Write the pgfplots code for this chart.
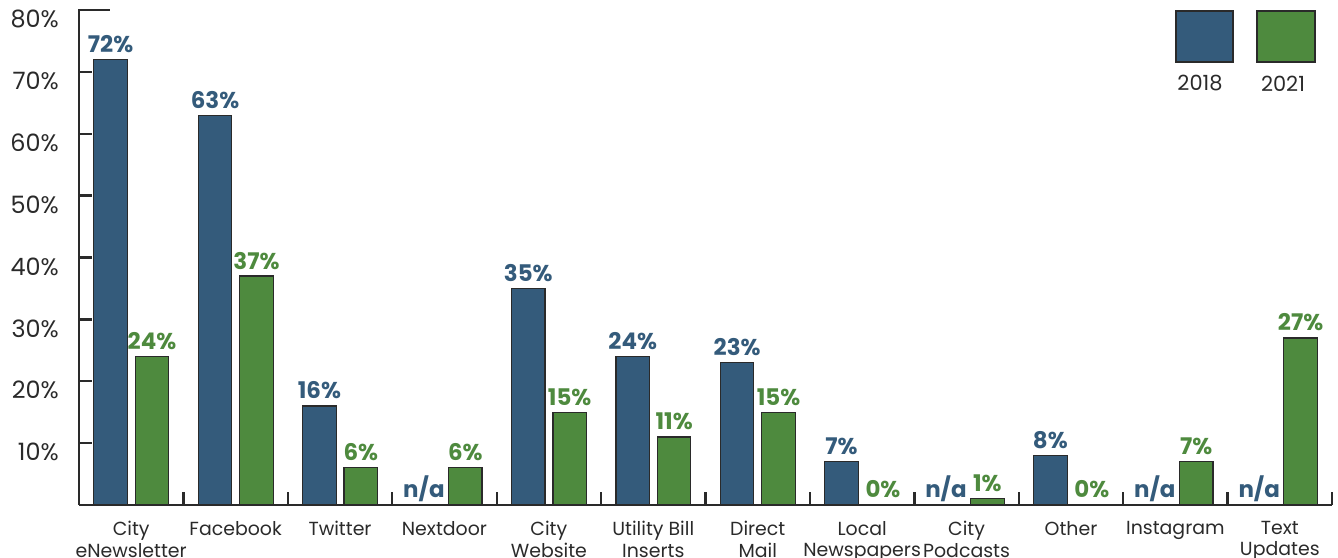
\documentclass[border=0pt]{standalone}
\usepackage{pgfplots}
\pgfplotsset{compat=1.18}
\usepackage{fontspec}
\setmainfont{Poppins}
\definecolor{cblue}{HTML}{345B7B}
\definecolor{cgreen}{HTML}{4E8A3E}
\definecolor{ctext}{HTML}{2A2A2A}
\begin{document}
\begin{tikzpicture}[x=1bp,y=1bp]
\useasboundingbox (0,0) rectangle (1338,558);
\begin{axis}[
  at={(79bp,53bp)}, anchor=south west,
  scale only axis, width=1253bp, height=495bp,
  xmin=-0.5, xmax=11.5, ymin=0, ymax=80,
  axis x line=bottom, axis y line=left,
  axis line style={-, line width=2.5bp, color=ctext},
  xtick={-0.5,0.5,...,11.5},
  x tick label as interval,
  major x tick style={draw=none},
  xticklabels={{City\\eNewsletter},{Facebook},{Twitter},{Nextdoor},{City\\Website},{Utility Bill\\Inserts},{Direct\\Mail},{Local\\Newspapers},{City\\Podcasts},{Other},{Instagram},{Text\\Updates}},
  xticklabel style={align=center, anchor=north, inner sep=0pt, yshift=-3bp, font=\fontsize{19}{21.5}\selectfont, text=ctext},
  ytick={10,20,...,80},
  yticklabel={\pgfmathprintnumber{\tick}\%},
  yticklabel style={anchor=east, inner sep=0pt, xshift=-20bp, yshift=-9bp, font=\fontsize{24}{26}\selectfont, text=ctext},
  /pgf/number format/assume math mode=true,
  major tick length=13bp, tick align=inside,
  major y tick style={line width=2.3bp, color=ctext},
  ybar, bar width=33.5bp,
  point meta=explicit symbolic,
  nodes near coords={\pgfplotspointmeta},
  every node near coord/.append style={font=\bfseries\fontsize{23}{26}\selectfont, inner sep=0pt, anchor=base, yshift=7bp},
  clip=false,
]
\addplot[fill=cblue, draw=ctext, line width=1.2bp, bar shift=-20.6bp,
  every node near coord/.append style={text=cblue}] coordinates {
  (0,72) [72\%] (1,63) [63\%] (2,16) [16\%] (3,0) [n/a] (4,35) [35\%] (5,24) [24\%]
  (6,23) [23\%] (7,7) [7\%] (8,0) [n/a] (9,8) [8\%] (10,0) [n/a] (11,0) [n/a]
};
\addplot[fill=cgreen, draw=ctext, line width=1.2bp, bar shift=20.8bp,
  every node near coord/.append style={text=cgreen}] coordinates {
  (0,24) [24\%] (1,37) [37\%] (2,6) [6\%] (3,6) [6\%] (4,15) [15\%] (5,11) [11\%]
  (6,15) [15\%] (7,0) [0\%] (8,1) [1\%] (9,0) [0\%] (10,7) [7\%] (11,27) [27\%]
};
\pgfplotsinvokeforeach{0.5,1.5,2.5,3.5,4.5,5.5,6.5,7.5,8.5,9.5,10.5,11.5}{
  \draw[line width=2.3bp, ctext] (axis cs:#1,0) -- ++(0pt,12.5bp);
}
\end{axis}
\draw[line width=2.5bp, ctext] (78,548) -- (110,548);
\filldraw[fill=cblue, draw=ctext, line width=1.2bp] (1176,496) rectangle (1233,547);
\filldraw[fill=cgreen, draw=ctext, line width=1.2bp] (1257,496) rectangle (1315,547);
\node[font=\fontsize{21}{24}\selectfont, text=ctext] at (1200,474.5) {2018};
\node[font=\fontsize{21}{24}\selectfont, text=ctext] at (1283,474.5) {2021};
\end{tikzpicture}
\end{document}
